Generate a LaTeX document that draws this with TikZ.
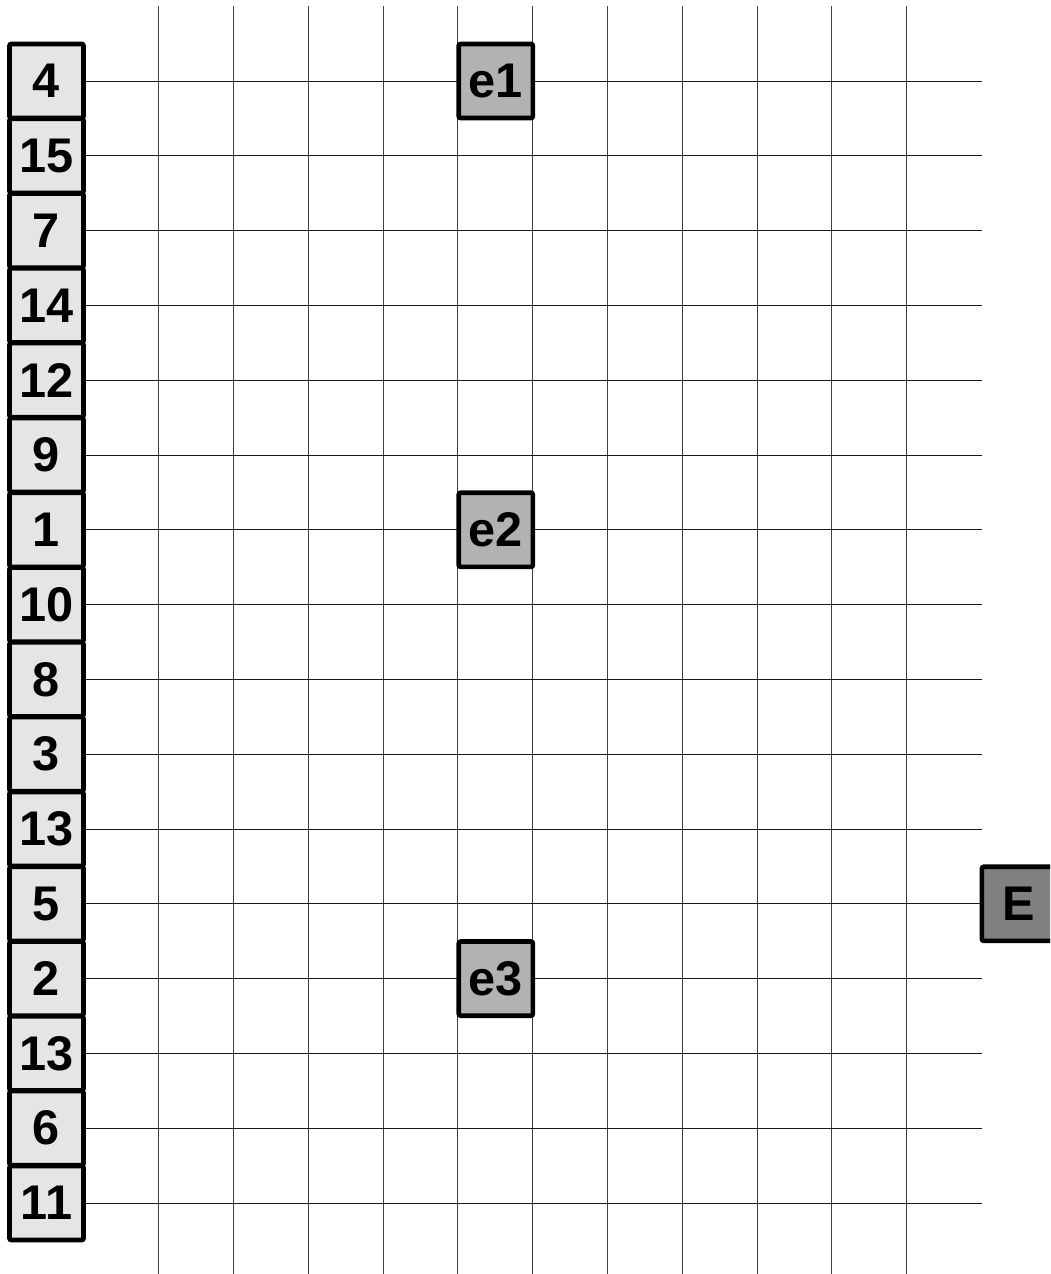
\documentclass[tikz,border=0pt]{standalone}
\usepackage{fontspec}
\setmainfont{Liberation Sans}
\begin{document}
\begin{tikzpicture}[x=0.75pt,y=-0.75pt,
  cellbox/.style={draw=black, line width=3.5pt, rounded corners=1.5pt, minimum size=55.6pt, inner sep=0pt, font=\fontsize{36.5}{36.5}\selectfont\bfseries},
  numbox/.style={cellbox, fill=black!10},
  evtbox/.style={cellbox, fill=black!30},
  bigbox/.style={cellbox, fill=black!50},
  hline/.style={line width=0.75pt, black!90},
  vline/.style={line width=0.75pt, black!75}]
\clip (0,0) rectangle (1050,1274);
% vertical grid lines
\foreach \j in {0,...,10}
  \draw[vline] (158.7+\j*74.8,6.2) -- (158.7+\j*74.8,1280);
% horizontal grid lines
\foreach \i in {0,...,15}
  \draw[hline] (83.9,81+\i*74.8) -- (981.5,81+\i*74.8);
% left column of numbered boxes
\foreach \t [count=\k from 0] in {4,15,7,14,12,9,1,10,8,3,13,5,2,13,6,11}
  \node[numbox] (L\k) at (46.5,81+\k*74.8) {\t};
% event boxes
\node[evtbox] (e1) at (495.8,81) {e1};
\node[evtbox] (e2) at (495.8,529.8) {e2};
\node[evtbox] (e3) at (495.8,978.6) {e3};
\node[bigbox] (E) at (1018.9,903.8) {E};
\end{tikzpicture}
\end{document}
